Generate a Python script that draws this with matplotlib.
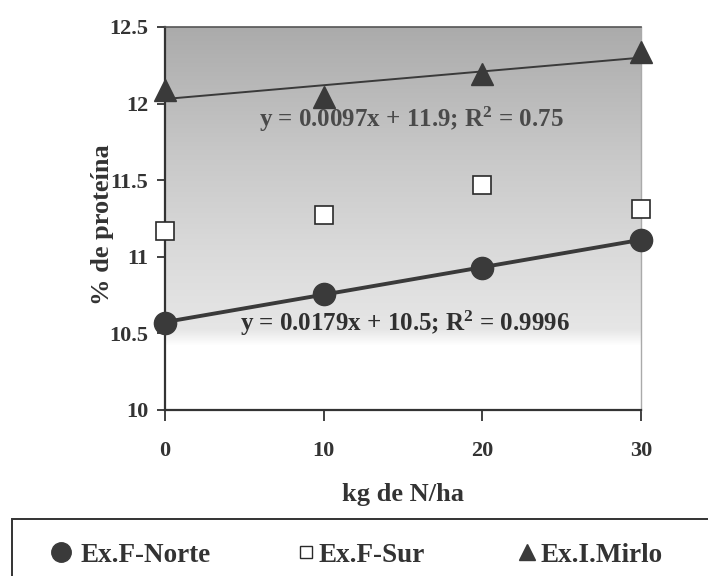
import numpy as np
import matplotlib
matplotlib.use("Agg")
import matplotlib.pyplot as plt
from matplotlib.lines import Line2D
from matplotlib.patches import Rectangle
from matplotlib.colors import LinearSegmentedColormap

x = [0, 10, 20, 30]
norte = [10.57, 10.76, 10.93, 11.11]
sur = [11.17, 11.27, 11.47, 11.31]
mirlo = [12.09, 12.04, 12.19, 12.34]
eq_norte = r"y = 0.0179x + 10.5; R$^{\mathbf{2}}$ = 0.9996"
eq_mirlo = r"y = 0.0097x + 11.9; R$^{\mathbf{2}}$ = 0.75"
xticks = [0, 10, 20, 30]
yticks = [10, 10.5, 11, 11.5, 12, 12.5]
ytick_labels = ["10", "10.5", "11", "11.5", "12", "12.5"]
labels = ["Ex.F-Norte", "Ex.F-Sur", "Ex.I.Mirlo"]

plt.rcParams['font.family'] = ['Liberation Serif', 'DejaVu Serif']
plt.rcParams['font.weight'] = 'bold'
plt.rcParams['axes.labelweight'] = 'bold'
plt.rcParams['mathtext.fontset'] = 'custom'
plt.rcParams['mathtext.rm'] = 'Liberation Serif:bold'
plt.rcParams['mathtext.bf'] = 'Liberation Serif:bold'
plt.rcParams['mathtext.it'] = 'Liberation Serif:bold'

TXT = '#333333'
fig = plt.figure(figsize=(7.08, 5.76), dpi=100)
ax = fig.add_axes([165/708, 1-410/576, (641-165)/708, (410-27)/576])
ax.set_xlim(0, 30)
ax.set_ylim(10, 12.5)

# gradient background
cmap = LinearSegmentedColormap.from_list(
    "g", [(0.0, "#ffffff"), (0.05, "#e6e6e6"), (0.3, "#dadada"), (0.6, "#c8c8c8"), (1.0, "#ababab")])
grad = np.linspace(0, 1, 256).reshape(-1, 1)
ax.imshow(grad, extent=[0, 30, 10.42, 12.5], origin='lower', aspect='auto', cmap=cmap,
          vmin=0, vmax=1, zorder=0)

# trend lines
xa = np.array(x, dtype=float)
pn = np.polyfit(xa, norte, 1)
pm = np.polyfit(xa, mirlo, 1)
xx = np.array([0, 30])
ax.plot(xx, np.polyval(pn, xx), color='#3a3a3a', lw=2.8, zorder=2, clip_on=False)
ax.plot(xx, np.polyval(pm, xx), color='#3a3a3a', lw=1.4, zorder=2, clip_on=False)

ax.plot(x, norte, 'o', color='#3a3a3a', ms=16, zorder=3, clip_on=False, ls='none')
ax.plot(x, sur, 's', mfc='white', mec='#2a2a2a', mew=1.2, ms=12.5, zorder=3, clip_on=False, ls='none')
ax.plot(x, mirlo, '^', color='#3a3a3a', ms=16, zorder=3, clip_on=False, ls='none')

ax.text(15.5, 11.895, eq_mirlo, ha='center', va='center', fontsize=18, color='#4a4a4a')
ax.text(15.1, 10.565, eq_norte, ha='center', va='center', fontsize=18, color='#303030')

ax.set_xticks(xticks)
ax.set_xticklabels([str(v) for v in xticks], fontsize=16, color=TXT)
ax.set_yticks(yticks)
ax.set_yticklabels(ytick_labels, fontsize=16, color=TXT)
ax.tick_params(axis='x', direction='out', length=8, width=1.3, pad=14, color='#333333')
ax.tick_params(axis='y', direction='out', length=6, width=1.3, pad=6, color='#333333')
for s in ['left', 'bottom']:
    ax.spines[s].set_color('#333333')
    ax.spines[s].set_linewidth(1.6)
ax.spines['top'].set_color('#555555')
ax.spines['top'].set_linewidth(1.2)
ax.spines['right'].set_color('#aaaaaa')
ax.spines['right'].set_linewidth(1.0)

ax.set_xlabel("kg de N/ha", fontsize=19, color=TXT, fontweight='bold')
ax.xaxis.set_label_coords(0.5, -0.19)
ax.set_ylabel("% de proteína", fontsize=19, color=TXT, fontweight='bold')
ax.yaxis.set_label_coords(-0.108, 0.483)

# legend frame (extends past the figure's bottom/right edges)
fig.add_artist(Rectangle((12/708, -0.1), 1.0, (1-519/576)+0.1, transform=fig.transFigure,
                         fill=False, ec='#333333', lw=1.4))

handles = [
    Line2D([], [], marker='o', ls='none', color='#3a3a3a', ms=14),
    Line2D([], [], marker='s', ls='none', mfc='white', mec='#2a2a2a', mew=1.0, ms=9),
    Line2D([], [], marker='^', ls='none', color='#3a3a3a', ms=12),
]
anchors = [50.5, 295.5, 516.5]
pads = [0.32, 0.06, 0.1]
for h, lab, a, p in zip(handles, labels, anchors, pads):
    lg = fig.legend([h], [lab], loc='center left', bbox_to_anchor=(a/708, 1-555/576),
                    frameon=False, fontsize=19.5, handlelength=0.8, handletextpad=p,
                    borderpad=0, borderaxespad=0)
    for t in lg.get_texts():
        t.set_color(TXT)
        t.set_fontweight('bold')

fig.savefig("out.png", dpi=100)
